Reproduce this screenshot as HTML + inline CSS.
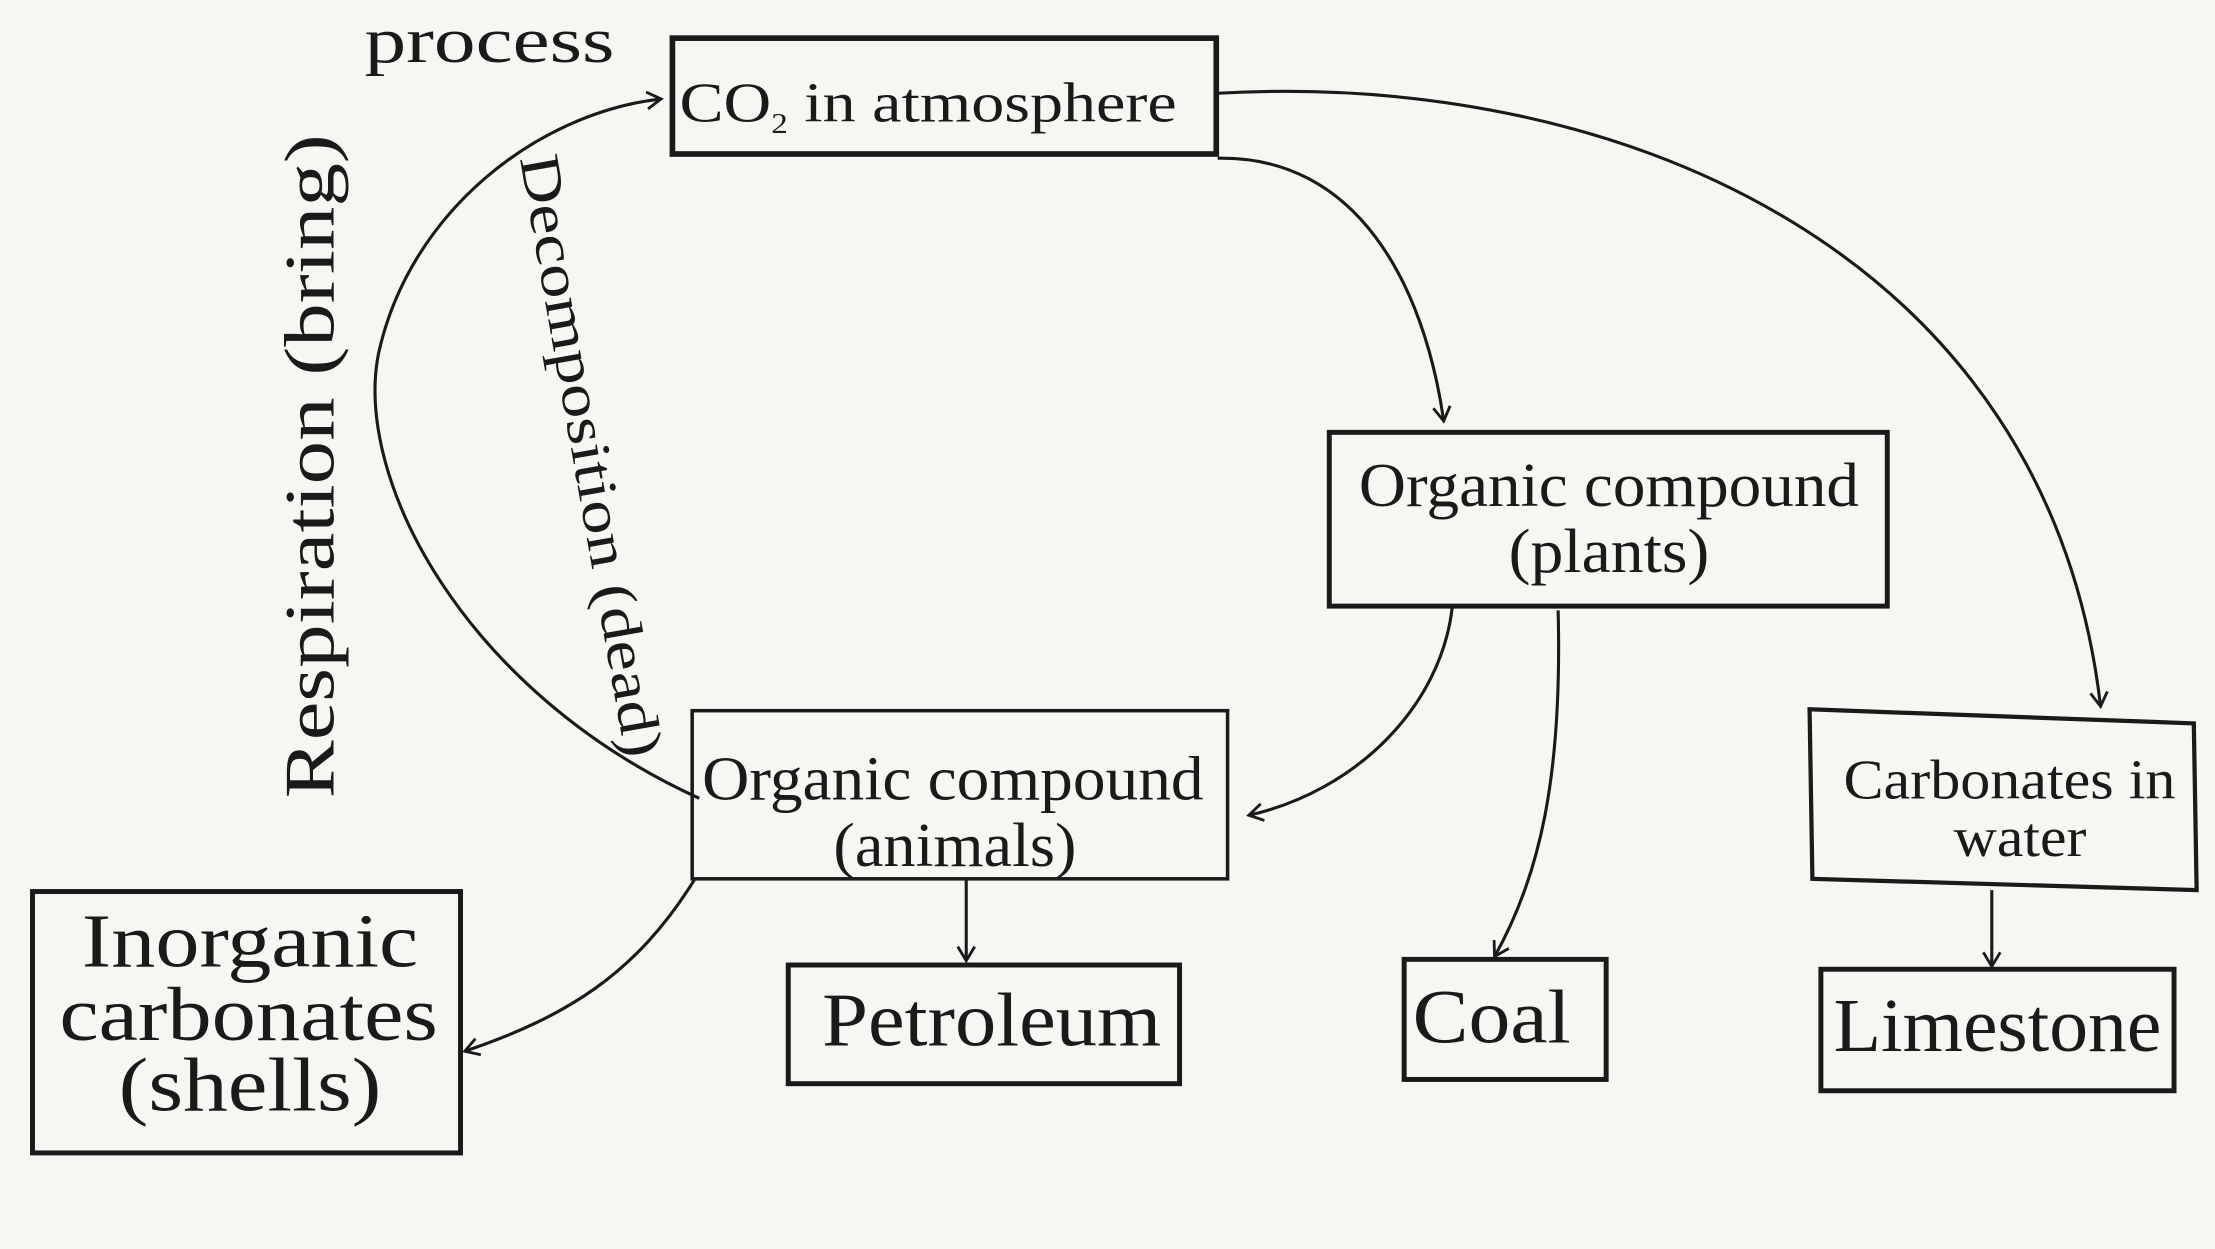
<!DOCTYPE html>
<html><head><meta charset="utf-8"><style>
html,body{margin:0;padding:0;background:#f8f6f3;}
svg{display:block;}
text{font-family:"Liberation Serif",serif;fill:#1a1a1a;}
</style></head><body>
<svg width="2215" height="1249" viewBox="0 0 1568 884" preserveAspectRatio="none" xmlns="http://www.w3.org/2000/svg">
<rect x="0" y="0" width="1568" height="884" fill="#f8f6f3"/>
<defs>
<marker id="a" markerWidth="14" markerHeight="14" refX="11" refY="7" orient="auto" markerUnits="userSpaceOnUse">
<path d="M1,1 L11,7 L1,13" fill="none" stroke="#1a1a1a" stroke-width="2"/>
</marker>
</defs>
<g fill="none" stroke="#1a1a1a">
<rect x="476" y="27" width="385" height="82" stroke-width="4"/>
<rect x="941" y="306" width="395" height="123" stroke-width="3.5"/>
<rect x="490" y="503" width="379" height="119" stroke-width="2.5"/>
<path d="M1281,502 L1553,512 L1555,630 L1283,622 Z" stroke-width="3"/>
<rect x="23" y="631" width="303" height="185" stroke-width="3.5"/>
<rect x="558" y="683" width="277" height="84" stroke-width="3.5"/>
<rect x="994" y="679" width="143" height="85" stroke-width="3.5"/>
<rect x="1289" y="686" width="250" height="86" stroke-width="3.5"/>
<g stroke-width="2.2">
<path d="M495,565 C330,490 250,340 268,250 C290,150 380,80 468,70" marker-end="url(#a)"/>
<path d="M862,112 C960,110 1008,200 1022,298" marker-end="url(#a)"/>
<path d="M862,66 C1150,50 1450,180 1487,500" marker-end="url(#a)"/>
<path d="M1028,430 C1020,500 960,560 884,577" marker-end="url(#a)"/>
<path d="M1103,432 C1106,550 1090,620 1058,677" marker-end="url(#a)"/>
<path d="M684,622 L684,680" marker-end="url(#a)"/>
<path d="M492,622 C450,690 400,720 329,744" marker-end="url(#a)"/>
<path d="M1410,630 L1410,684" marker-end="url(#a)"/>
</g>
</g>
<text x="258" y="44" font-size="46" textLength="177" lengthAdjust="spacingAndGlyphs">process</text>
<text x="481" y="86" font-size="40" textLength="352" lengthAdjust="spacingAndGlyphs">CO<tspan font-size="20" dy="8">2</tspan><tspan dy="-8"> in atmosphere</tspan></text>
<text x="962" y="358" font-size="44" textLength="354" lengthAdjust="spacingAndGlyphs">Organic compound</text>
<text x="1068" y="405" font-size="44" textLength="142" lengthAdjust="spacingAndGlyphs">(plants)</text>
<text x="497" y="566" font-size="44" textLength="355" lengthAdjust="spacingAndGlyphs">Organic compound</text>
<text x="590" y="613" font-size="44" textLength="172" lengthAdjust="spacingAndGlyphs">(animals)</text>
<text x="1305" y="565" font-size="40" textLength="235" lengthAdjust="spacingAndGlyphs">Carbonates in</text>
<text x="1383" y="606" font-size="40" textLength="94" lengthAdjust="spacingAndGlyphs">water</text>
<text x="58" y="684" font-size="54" textLength="238" lengthAdjust="spacingAndGlyphs">Inorganic</text>
<text x="42" y="736" font-size="54" textLength="268" lengthAdjust="spacingAndGlyphs">carbonates</text>
<text x="84" y="786" font-size="54" textLength="186" lengthAdjust="spacingAndGlyphs">(shells)</text>
<text x="582" y="740" font-size="54" textLength="240" lengthAdjust="spacingAndGlyphs">Petroleum</text>
<text x="1000" y="738" font-size="54" textLength="112" lengthAdjust="spacingAndGlyphs">Coal</text>
<text x="1298" y="744" font-size="54" textLength="232" lengthAdjust="spacingAndGlyphs">Limestone</text>
<text transform="translate(236,565) rotate(-90)" font-size="50" textLength="470" lengthAdjust="spacingAndGlyphs">Respiration (bring)</text>
<text transform="translate(368,112) rotate(80)" font-size="40" textLength="432" lengthAdjust="spacingAndGlyphs">Decomposition (dead)</text>
</svg>
</body></html>
